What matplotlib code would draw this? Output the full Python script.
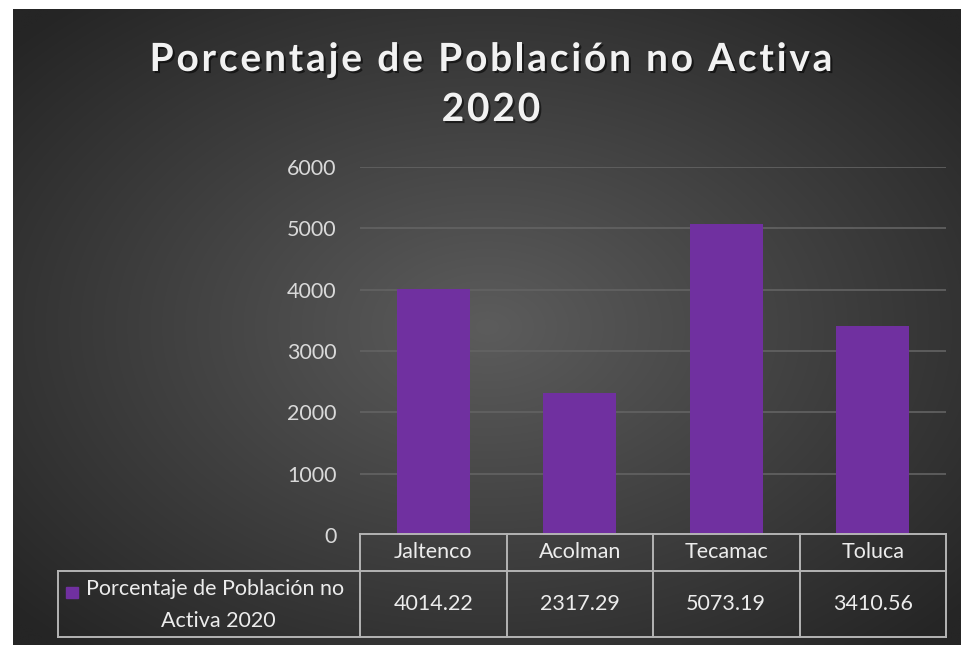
import numpy as np
import matplotlib
matplotlib.use("Agg")
import matplotlib.pyplot as plt
import matplotlib.patheffects as pe
from matplotlib.patches import Rectangle
from matplotlib.transforms import blended_transform_factory
from matplotlib.font_manager import FontProperties

# ---- data ----
categories = ["Jaltenco", "Acolman", "Tecamac", "Toluca"]
values = [4014.22, 2317.29, 5073.19, 3410.56]
series_name = "Porcentaje de Población no Activa 2020"
title_lines = ["Porcentaje de Población no Activa", "2020"]
y_ticks = [0, 1000, 2000, 3000, 4000, 5000, 6000]

W, H = 962, 645
FONT = "Lato"
fig = plt.figure(figsize=(W / 100, H / 100), dpi=100, facecolor="white")


def fx(x):
    return x / W


def fy(y):
    return 1 - y / H


# ---- background with radial gradient ----
bg = fig.add_axes([fx(13), 0, fx(W - 13), 1 - 9 / H])
bg.set_axis_off()
gx = np.linspace(-1, 1, 400)
gy = np.linspace(-1, 1, 300)
GX, GY = np.meshgrid(gx, gy)
R = np.clip(np.sqrt(GX ** 2 + GY ** 2) / 1.35, 0, 1)
c_in, c_out = 0x5c / 255, 0x25 / 255
img = c_in + (c_out - c_in) * R
rgb = np.dstack([img, img, img])
bg.imshow(rgb, aspect="auto", extent=[0, 1, 0, 1], interpolation="bilinear")
bg.set_xlim(0, 1)
bg.set_ylim(0, 1)

# ---- main axes ----
ax = fig.add_axes([fx(360), fy(535), fx(946 - 360), (535 - 167) / H])
ax.set_facecolor("none")
x = np.arange(len(categories))
ax.bar(x, values, width=0.5, color="#7030A0", zorder=3)
ax.set_xlim(-0.5, len(categories) - 0.5)
ax.set_ylim(y_ticks[0], y_ticks[-1])
ax.set_yticks(y_ticks)
ax.set_yticklabels([str(t) for t in y_ticks], fontsize=15.5, color="#d9d9d9",
                   family=FONT)
ax.tick_params(axis="y", length=0, pad=17)
ax.set_xticks([])
for t in y_ticks[1:]:
    ax.axhline(t, color="#636363", lw=1.2, zorder=1)
for s in ax.spines.values():
    s.set_visible(False)

# ---- data table ----
tr = blended_transform_factory(ax.transData, fig.transFigure)
line_c = "#b4b4b4"
lw = 1.4
y_top, y_mid, y_bot = fy(534), fy(571), fy(637)
edges = np.arange(len(categories) + 1) - 0.5
ax.plot([edges[0], edges[-1]], [y_top, y_top], transform=tr, color=line_c,
        lw=lw, clip_on=False, zorder=5)
fig.add_artist(plt.Line2D([fx(58), fx(946)], [y_mid, y_mid], color=line_c, lw=lw))
fig.add_artist(plt.Line2D([fx(58), fx(946)], [y_bot, y_bot], color=line_c, lw=lw))
fig.add_artist(plt.Line2D([fx(58), fx(58)], [y_mid, y_bot], color=line_c, lw=lw))
for e in edges:
    ax.plot([e, e], [y_top, y_bot], transform=tr, color=line_c, lw=lw,
            clip_on=False, zorder=5)
for i, (c, v) in enumerate(zip(categories, values)):
    ax.text(i, (y_top + y_mid) / 2, c, transform=tr, ha="center", va="center",
            fontsize=15.5, color="#ececec", family=FONT)
    ax.text(i, (y_mid + y_bot) / 2, f"{v:.2f}", transform=tr, ha="center",
            va="center", fontsize=15.5, color="#ececec", family=FONT)

# legend cell
fig.add_artist(Rectangle((fx(66), fy(598)), fx(12), 11 / H, color="#7030A0",
                         transform=fig.transFigure))
words = series_name.split(" ")
fig.text(fx(86), fy(589), " ".join(words[:4]), ha="left", va="center",
         fontsize=15.5, color="#ececec", family=FONT)
fig.text(fx(218), fy(621), " ".join(words[4:]), ha="center", va="center",
         fontsize=15.5, color="#ececec", family=FONT)

# ---- title with letter spacing and shadow ----
renderer = fig.canvas.get_renderer()
tprop = FontProperties(family=FONT, weight="bold", size=28)
shadow = [pe.SimplePatchShadow(offset=(1.5, -1.5), shadow_rgbFace="black",
                               alpha=0.55), pe.Normal()]


def spaced_text(s, cx, base_y, spacing):
    widths = []
    for ch in s:
        if ch == " ":
            w, _, _ = renderer.get_text_width_height_descent("a a", tprop, ismath=False)
            w2, _, _ = renderer.get_text_width_height_descent("aa", tprop, ismath=False)
            widths.append(w - w2)
        else:
            w, _, _ = renderer.get_text_width_height_descent(ch, tprop, ismath=False)
            widths.append(w)
    total = sum(widths) + spacing * (len(s) - 1)
    xpos = cx - total / 2
    for ch, w in zip(s, widths):
        if ch != " ":
            fig.text(fx(xpos), fy(base_y), ch, ha="left", va="baseline",
                     fontproperties=tprop, color="#f2f2f2", path_effects=shadow)
        xpos += w + spacing


spaced_text(title_lines[0], 491, 71, 2.8)
spaced_text(title_lines[1], 491, 121, 2.8)

fig.savefig("out.png", dpi=100, facecolor="white")
